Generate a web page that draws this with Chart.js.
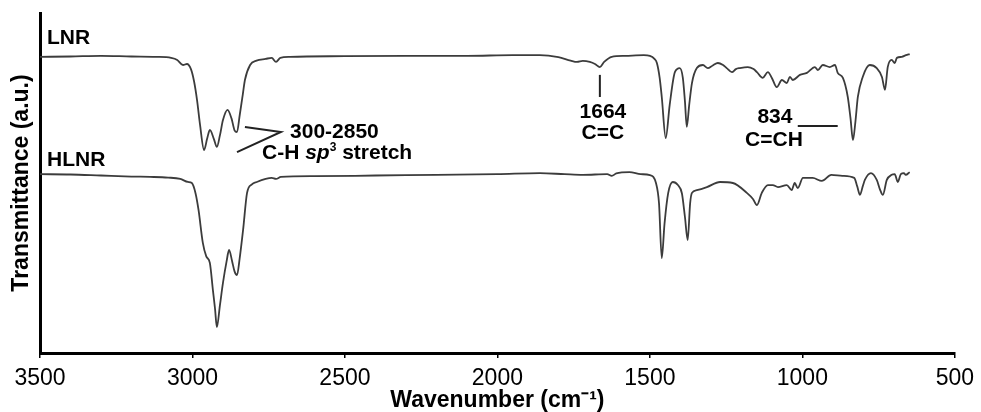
<!DOCTYPE html>
<html>
<head>
<meta charset="utf-8">
<title>FTIR spectra of LNR and HLNR</title>
<script src="https://cdn.jsdelivr.net/npm/chart.js@4.4.1/dist/chart.umd.min.js"></script>
<style>
  html, body { margin: 0; padding: 0; background: #ffffff; }
  #wrap { width: 981px; height: 412px; }
</style>
</head>
<body>
<div id="wrap"><canvas id="ftir" width="981" height="412"></canvas></div>
<script>
// Wavenumber axis ticks (cm-1)
const wavenumberTicks = [3500, 3000, 2500, 2000, 1500, 1000, 500];

// LNR spectrum: wavenumber (cm-1) and transmittance (a.u.)
const lnrWavenumber = [
  3500, 3400, 3300, 3200, 3120, 3070, 3050, 3031, 3018, 3005, 2995, 2985, 2975, 2962, 2952,
  2943, 2930, 2920, 2910, 2900, 2885, 2872, 2862, 2854, 2845, 2835, 2828, 2811, 2790, 2760,
  2740, 2726, 2712, 2680, 2500, 2300, 2100, 1950, 1861, 1800, 1760, 1739, 1720, 1697, 1680,
  1664, 1650, 1625, 1580, 1520, 1500, 1485, 1477, 1468, 1461, 1448, 1435, 1418, 1402, 1392,
  1385, 1379, 1371, 1362, 1346, 1326, 1310, 1295, 1277, 1260, 1248, 1231, 1218, 1205, 1179,
  1160, 1149, 1130, 1113, 1100, 1084, 1067, 1051, 1041, 1031, 1008, 985, 959, 949, 933,
  910, 893, 884, 867, 851, 842, 834, 826, 818, 802, 779, 756, 739, 729, 720,
  707, 697, 690, 674, 660, 648
];
const lnrTransmittance = [
  87.1, 87.2, 87.4, 87.2, 87.1, 86.8, 86.2, 84.7, 85.0, 83.5, 80.0, 74.4, 67.0, 59.7, 63.0,
  65.6, 63.0, 60.6, 64.0, 68.5, 71.5, 69.0, 65.5, 65.0, 70.0, 76.0, 80.3, 84.7, 86.0, 86.5,
  86.8, 85.6, 86.8, 87.1, 87.3, 87.4, 87.4, 87.6, 87.6, 87.0, 86.0, 85.6, 85.9, 85.6, 85.0,
  84.1, 85.6, 87.1, 87.4, 87.6, 87.4, 86.5, 85.3, 81.0, 75.3, 63.2, 73.0, 82.6, 83.8, 81.0,
  74.0, 66.5, 73.0, 79.4, 83.8, 84.7, 83.8, 84.5, 85.3, 84.7, 83.8, 82.6, 83.5, 83.8, 84.1,
  83.5, 82.6, 80.9, 82.6, 80.9, 78.2, 80.3, 79.4, 81.2, 80.3, 81.8, 82.4, 84.1, 83.2, 84.7,
  84.1, 84.7, 82.4, 80.9, 75.3, 69.0, 62.6, 68.0, 75.3, 81.2, 84.7, 83.8, 81.2, 77.4, 84.1,
  86.2, 85.3, 86.8, 87.1, 87.6, 87.9
];

// HLNR spectrum: wavenumber (cm-1) and transmittance (a.u.)
const hlnrWavenumber = [
  3500, 3400, 3300, 3200, 3139, 3080, 3040, 3015, 3002, 2990, 2980, 2966, 2955, 2943, 2933,
  2926, 2920, 2910, 2900, 2888, 2880, 2870, 2862, 2854, 2845, 2834, 2821, 2805, 2789, 2760,
  2740, 2726, 2710, 2600, 2400, 2200, 2000, 1861, 1780, 1720, 1640, 1625, 1610, 1567, 1530,
  1500, 1480, 1470, 1461, 1452, 1440, 1425, 1408, 1395, 1385, 1376, 1368, 1362, 1346, 1313,
  1270, 1228, 1182, 1162, 1149, 1133, 1113, 1097, 1080, 1051, 1035, 1025, 1015, 998, 966,
  936, 905, 869, 830, 820, 811, 802, 795, 775, 756, 745, 736, 723, 707, 697,
  687, 677, 667, 661, 648
];
const hlnrTransmittance = [
  52.6, 52.5, 52.2, 51.9, 51.8, 51.6, 51.2, 50.3, 50.0, 47.0, 42.0, 32.4, 28.5, 26.5, 18.5,
  13.0, 7.6, 14.0, 20.6, 27.0, 30.3, 27.0, 24.0, 22.9, 28.0, 36.2, 47.1, 49.6, 50.3, 51.2,
  51.5, 51.2, 51.8, 52.0, 52.2, 52.4, 52.6, 52.9, 52.6, 52.4, 52.6, 52.1, 52.8, 53.2, 52.6,
  52.3, 50.0, 44.0, 27.9, 38.0, 47.0, 50.3, 49.4, 47.0, 40.0, 33.2, 44.0, 47.1, 47.9, 48.8,
  50.3, 50.0, 47.1, 45.3, 43.5, 47.1, 49.4, 49.4, 48.8, 49.4, 47.9, 50.0, 48.5, 51.5, 51.5,
  50.6, 52.4, 52.1, 51.5, 49.0, 46.5, 49.0, 50.9, 52.9, 50.9, 48.0, 46.5, 50.9, 52.4, 52.6,
  50.3, 52.6, 52.9, 52.4, 53.2
];

const toPoints = (xs, ys) => xs.map((v, i) => ({ x: v, y: ys[i] }));

const FONT = '"Liberation Sans", Arial, Helvetica, sans-serif';
const INK = '#000000';
const TRACE = '#3c3c3c';

// Band assignments, anchored in wavenumber / transmittance space
const bandLabels = [
  { runs: [{ text: 'LNR' }], at: [3477, 92.6], align: 'left' },
  { runs: [{ text: 'HLNR' }], at: [3477, 56.8], align: 'left' },
  { runs: [{ text: '300-2850' }], at: [2680, 65.0], align: 'left' },
  { runs: [
      { text: 'C-H ' },
      { text: 'sp', style: 'italic bold', size: 21 },
      { text: '3', size: 12, rise: 5 },
      { text: ' stretch' }
    ], at: [2772, 58.8], align: 'left' },
  { runs: [{ text: '1664' }], at: [1654, 70.9], align: 'center' },
  { runs: [{ text: 'C=C' }], at: [1654, 64.7], align: 'center' },
  { runs: [{ text: '834' }], at: [1090, 69.4], align: 'center' },
  { runs: [{ text: 'C=CH' }], at: [1093, 62.6], align: 'center' }
];
const bandLeaders = [
  [[2828, 66.5], [2710, 65.0], [2854, 59.1]],
  [[1664, 81.8], [1664, 75.3]],
  [[1015, 66.8], [884, 66.8]]
];

const bandLabelPlugin = {
  id: 'bandLabels',
  afterDatasetsDraw(chart) {
    const { ctx, scales: { x, y } } = chart;
    ctx.save();
    ctx.strokeStyle = '#222222';
    ctx.lineWidth = 2;
    ctx.lineJoin = 'miter';
    bandLeaders.forEach(path => {
      ctx.beginPath();
      path.forEach(([wn, t], i) => {
        const px = x.getPixelForValue(wn), py = y.getPixelForValue(t);
        if (i === 0) ctx.moveTo(px, py); else ctx.lineTo(px, py);
      });
      ctx.stroke();
    });
    ctx.fillStyle = INK;
    ctx.textBaseline = 'middle';
    ctx.textAlign = 'left';
    bandLabels.forEach(lbl => {
      const fontOf = r => `${r.style || 'bold'} ${r.size || 21}px ${FONT}`;
      let total = 0;
      lbl.runs.forEach(r => { ctx.font = fontOf(r); total += ctx.measureText(r.text).width; });
      let px = x.getPixelForValue(lbl.at[0]);
      const py = y.getPixelForValue(lbl.at[1]);
      if (lbl.align === 'center') px -= total / 2;
      lbl.runs.forEach(r => {
        ctx.font = fontOf(r);
        ctx.fillText(r.text, px, py - (r.rise || 0));
        px += ctx.measureText(r.text).width;
      });
    });
    ctx.restore();
  }
};

new Chart(document.getElementById('ftir'), {
  type: 'line',
  data: {
    datasets: [
      { label: 'LNR', data: toPoints(lnrWavenumber, lnrTransmittance) },
      { label: 'HLNR', data: toPoints(hlnrWavenumber, hlnrTransmittance) }
    ]
  },
  options: {
    responsive: false,
    devicePixelRatio: 1,
    animation: false,
    layout: { padding: { top: 13, right: 26, left: 0, bottom: 0 } },
    elements: {
      point: { radius: 0 },
      line: { borderColor: TRACE, borderWidth: 1.8, cubicInterpolationMode: 'monotone', fill: false }
    },
    plugins: { legend: { display: false }, tooltip: { enabled: false } },
    scales: {
      x: {
        type: 'linear',
        reverse: true,
        min: wavenumberTicks[wavenumberTicks.length - 1],
        max: wavenumberTicks[0],
        afterBuildTicks: scale => { scale.ticks = wavenumberTicks.map(v => ({ value: v })); },
        ticks: {
          color: INK,
          font: { family: FONT, size: 23 },
          padding: 7,
          maxRotation: 0,
          callback: v => String(v)
        },
        grid: { display: true, drawOnChartArea: false, drawTicks: true, tickLength: 5, color: INK, lineWidth: 1.5 },
        border: { display: true, color: INK, width: 3 },
        title: {
          display: true,
          text: 'Wavenumber (cm\u207B\u00B9)',
          color: INK,
          font: { family: FONT, size: 23, weight: 'bold', lineHeight: 1 },
          padding: 0
        },
        afterFit: scale => { scale.height = 59; }
      },
      y: {
        min: 0,
        max: 100,
        ticks: { display: false },
        grid: { display: false, drawTicks: false },
        border: { display: true, color: INK, width: 3 },
        title: {
          display: true,
          text: 'Transmittance (a.u.)',
          color: INK,
          font: { family: FONT, size: 23, weight: 'bold', lineHeight: 1.2 },
          padding: { top: 8, bottom: 0 }
        },
        afterFit: scale => { scale.width = 40; }
      }
    }
  },
  plugins: [bandLabelPlugin]
});
</script>
</body>
</html>
